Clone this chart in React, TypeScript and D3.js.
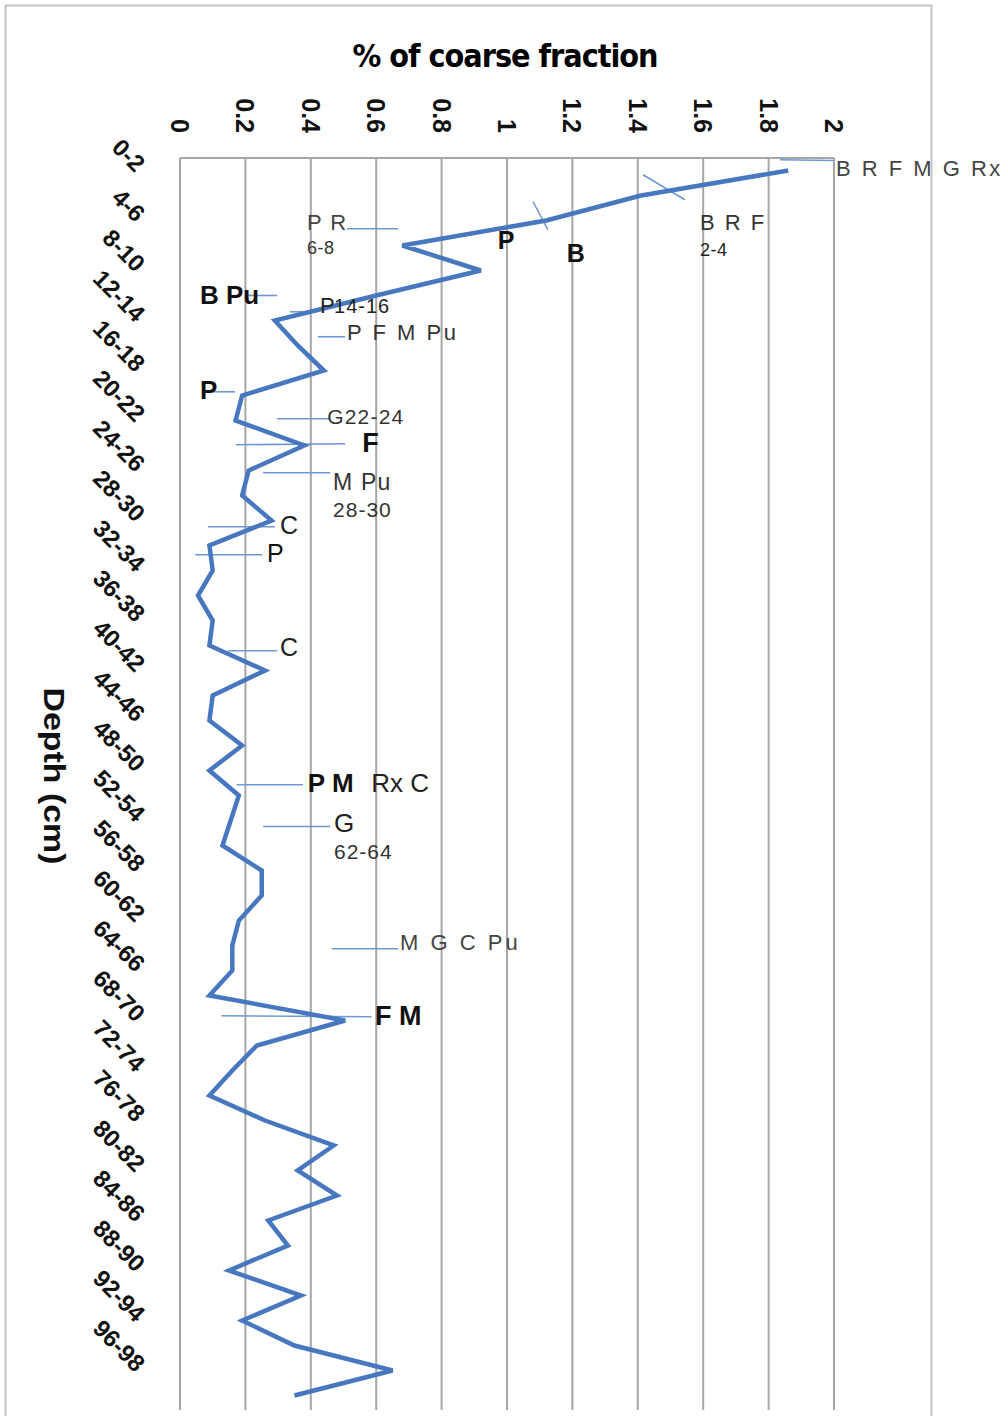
import * as d3 from 'd3';

// depth intervals (cm), one sample every 2 cm
const depths = [
  '0-2', '2-4', '4-6', '6-8', '8-10', '10-12', '12-14', '14-16', '16-18', '18-20',
  '20-22', '22-24', '24-26', '26-28', '28-30', '30-32', '32-34', '34-36', '36-38', '38-40',
  '40-42', '42-44', '44-46', '46-48', '48-50', '50-52', '52-54', '54-56', '56-58', '58-60',
  '60-62', '62-64', '64-66', '66-68', '68-70', '70-72', '72-74', '74-76', '76-78', '78-80',
  '80-82', '82-84', '84-86', '86-88', '88-90', '90-92', '92-94', '94-96', '96-98', '98-100',
];

// % of coarse fraction per interval
const coarse = [
  1.86, 1.41, 1.12, 0.68, 0.92, 0.6, 0.29, 0.36, 0.44, 0.19,
  0.17, 0.38, 0.21, 0.19, 0.28, 0.09, 0.1, 0.055, 0.1, 0.09,
  0.26, 0.1, 0.09, 0.19, 0.09, 0.18, 0.155, 0.13, 0.25, 0.25,
  0.18, 0.16, 0.16, 0.09, 0.505, 0.235, 0.16, 0.09, 0.26, 0.47,
  0.36, 0.48, 0.27, 0.33, 0.15, 0.37, 0.19, 0.35, 0.65, 0.35,
];

const xTicks = [0, 0.2, 0.4, 0.6, 0.8, 1, 1.2, 1.4, 1.6, 1.8, 2];
const shownDepths = depths.filter((_, i) => i % 2 === 0);

// leader lines: value range and depth position (in sample steps)
const leaders = [
  { v1: 1.835, v2: 2.0, d1: -0.43, d2: -0.4 },
  { v1: 1.416, v2: 1.544, d1: 0.17, d2: 1.17 },
  { v1: 1.08, v2: 1.125, d1: 1.25, d2: 2.37 },
  { v1: 0.51, v2: 0.667, d1: 2.33, d2: 2.33 },
  { v1: 0.205, v2: 0.297, d1: 5.0, d2: 5.0 },
  { v1: 0.336, v2: 0.413, d1: 5.65, d2: 5.65 },
  { v1: 0.422, v2: 0.505, d1: 6.65, d2: 6.65 },
  { v1: 0.1, v2: 0.168, d1: 8.85, d2: 8.85 },
  { v1: 0.297, v2: 0.459, d1: 9.93, d2: 9.93 },
  { v1: 0.171, v2: 0.505, d1: 10.97, d2: 10.93 },
  { v1: 0.254, v2: 0.459, d1: 12.09, d2: 12.09 },
  { v1: 0.086, v2: 0.29, d1: 14.25, d2: 14.25 },
  { v1: 0.046, v2: 0.251, d1: 15.37, d2: 15.37 },
  { v1: 0.147, v2: 0.297, d1: 19.21, d2: 19.21 },
  { v1: 0.173, v2: 0.376, d1: 24.57, d2: 24.57 },
  { v1: 0.254, v2: 0.459, d1: 26.24, d2: 26.24 },
  { v1: 0.464, v2: 0.667, d1: 31.13, d2: 31.13 },
  { v1: 0.127, v2: 0.586, d1: 33.81, d2: 33.85 },
];

// component labels: text, value, depth position, size, weight, colour, spacing
const notes = [
  { t: 'B R F M G Rx', v: 2.006, d: 0.21, s: 22, w: 400, c: '#444', ls: 2.5 },
  { t: 'B R F', v: 1.59, d: 2.37, s: 22, w: 400, c: '#333', ls: 2 },
  { t: '2-4', v: 1.59, d: 3.41, s: 18, w: 400, c: '#222', ls: 0.5 },
  { t: 'P R', v: 0.388, d: 2.37, s: 22, w: 400, c: '#444', ls: 1.5 },
  { t: '6-8', v: 0.388, d: 3.33, s: 18, w: 400, c: '#333', ls: 0.5 },
  { t: 'P', v: 0.972, d: 3.13, s: 25, w: 700, c: '#111', ls: 0 },
  { t: 'B', v: 1.183, d: 3.65, s: 25, w: 700, c: '#111', ls: 0 },
  { t: 'B Pu', v: 0.061, d: 5.33, s: 26, w: 700, c: '#111', ls: 0 },
  { t: 'P', v: 0.428, d: 5.69, s: 22, w: 400, c: '#222', ls: 0 },
  { t: '14-16', v: 0.471, d: 5.69, s: 20, w: 400, c: '#222', ls: 1 },
  { t: 'P F M Pu', v: 0.511, d: 6.77, s: 22, w: 400, c: '#333', ls: 2.5 },
  { t: 'P', v: 0.061, d: 9.13, s: 26, w: 700, c: '#111', ls: 0 },
  { t: 'G22-24', v: 0.45, d: 10.13, s: 21, w: 400, c: '#333', ls: 1.2 },
  { t: 'F', v: 0.557, d: 11.25, s: 27, w: 700, c: '#111', ls: 0 },
  { t: 'M Pu', v: 0.468, d: 12.77, s: 23, w: 400, c: '#333', ls: 1.2 },
  { t: '28-30', v: 0.468, d: 13.85, s: 21, w: 400, c: '#333', ls: 1 },
  { t: 'C', v: 0.306, d: 14.53, s: 25, w: 400, c: '#222', ls: 0 },
  { t: 'P', v: 0.266, d: 15.65, s: 25, w: 400, c: '#111', ls: 0 },
  { t: 'C', v: 0.306, d: 19.41, s: 25, w: 400, c: '#222', ls: 0 },
  { t: 'P M', v: 0.391, d: 24.85, s: 26, w: 700, c: '#111', ls: 0 },
  { t: 'Rx C', v: 0.585, d: 24.85, s: 26, w: 400, c: '#222', ls: 0 },
  { t: 'G', v: 0.471, d: 26.45, s: 26, w: 400, c: '#222', ls: 0 },
  { t: '62-64', v: 0.471, d: 27.53, s: 21, w: 400, c: '#333', ls: 1 },
  { t: 'M G C Pu', v: 0.673, d: 31.17, s: 22, w: 400, c: '#444', ls: 3 },
  { t: 'F M', v: 0.596, d: 34.17, s: 27, w: 700, c: '#111', ls: 0 },
];

const W = 1006;
const H = 1416;
const plot = { left: 180, right: 834, top: 158, bottom: 1408 };
const lineBlue = '#4677bf';
const leaderBlue = '#6f98d2';
const gridGrey = '#a6a6a6';
const font = '"Liberation Sans", Arial, sans-serif';

export default function App() {
  const x = d3.scaleLinear().domain([0, 2]).range([plot.left, plot.right]);
  const y = d3.scalePoint<string>().domain(depths).range([plot.top, plot.bottom]).padding(0.5);
  const yAt = (d: number) => (y(depths[0]) as number) + d * y.step();

  const line = d3
    .line<number>()
    .x((v) => x(v))
    .y((_, i) => y(depths[i]) as number);

  return (
    <div style={{ position: 'absolute', left: 0, top: 0 }}>
      <svg width={W} height={H} style={{ display: 'block', background: '#fff' }}>
        <rect x={5.5} y={5.5} width={926} height={1500} fill="none" stroke="#c4c4c4" strokeWidth={2} />

        <text
          x={505}
          y={67}
          textAnchor="middle"
          fontFamily={'"Liberation Sans Narrow", "DejaVu Sans Condensed", ' + font}
          fontWeight={700}
          fontSize={32}
          textLength={305}
          lengthAdjust="spacingAndGlyphs"
          letterSpacing={-1}
        >
          % of coarse fraction
        </text>

        {xTicks.map((t) => (
          <g key={t}>
            <line x1={x(t)} x2={x(t)} y1={plot.top} y2={plot.bottom + 2} stroke={gridGrey} strokeWidth={2} />
            <text
              transform={`translate(${x(t) - 9}, 133) rotate(90)`}
              textAnchor="end"
              fontFamily={font}
              fontWeight={700}
              fontSize={25}
              fill="#111"
            >
              {t}
            </text>
          </g>
        ))}
        <line x1={plot.left} x2={plot.right} y1={plot.top} y2={plot.top} stroke={gridGrey} strokeWidth={2} />

        {shownDepths.map((d) => (
          <text
            key={d}
            transform={`translate(135, ${(y(d) as number) + 3}) rotate(45)`}
            textAnchor="end"
            fontFamily={font}
            fontWeight={700}
            fontSize={24}
            fill="#111"
          >
            {d}
          </text>
        ))}

        <text
          transform="translate(44, 776) rotate(90)"
          textAnchor="middle"
          fontFamily={font}
          fontWeight={700}
          fontSize={30}
          textLength={177}
          lengthAdjust="spacingAndGlyphs"
          fill="#111"
        >
          Depth (cm)
        </text>

        {leaders.map((l, i) => (
          <line
            key={i}
            x1={x(l.v1)}
            x2={x(l.v2)}
            y1={yAt(l.d1)}
            y2={yAt(l.d2)}
            stroke={leaderBlue}
            strokeWidth={1.6}
          />
        ))}

        <path
          d={line(coarse) ?? ''}
          fill="none"
          stroke={lineBlue}
          strokeWidth={4.5}
          strokeLinejoin="miter"
          strokeMiterlimit={3}
        />

        {notes.map((n, i) => (
          <text
            key={i}
            x={x(n.v)}
            y={yAt(n.d)}
            fontFamily={font}
            fontWeight={n.w}
            fontSize={n.s}
            fill={n.c}
            letterSpacing={n.ls}
          >
            {n.t}
          </text>
        ))}
      </svg>
    </div>
  );
}
